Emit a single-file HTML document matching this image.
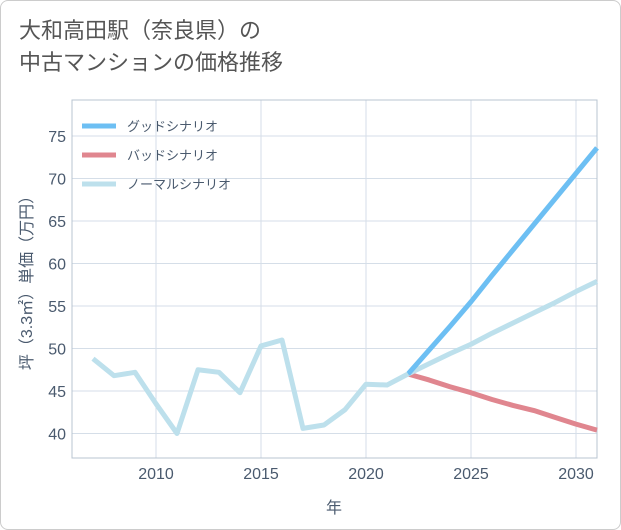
<!DOCTYPE html>
<html><head><meta charset="utf-8"><style>
body{margin:0;background:#fff;}
#wrap{position:relative;width:619px;height:528px;border:1px solid #ccc;border-radius:8px;background:#fff;overflow:hidden;font-family:"Liberation Sans","Noto Sans CJK JP",sans-serif;}
#title{position:absolute;left:18px;top:14px;font-size:22px;line-height:32px;color:#555;}
</style></head><body>
<div id="wrap">
<div id="title">大和高田駅（奈良県）の<br>中古マンションの価格推移</div>
<svg id="svg" width="621" height="530" style="position:absolute;left:-1px;top:-1px"></svg>
</div>
<script>
const years=[2007,2008,2009,2010,2011,2012,2013,2014,2015,2016,2017,2018,2019,2020,2021,2022];
const history=[48.8,46.8,47.2,43.5,40.0,47.5,47.2,44.8,50.3,51.0,40.6,41.0,42.8,45.8,45.7,47.0];
const futureYears=[2022,2023,2024,2025,2026,2027,2028,2029,2030,2031];
const good=[47.0,49.8,52.6,55.5,58.6,61.6,64.6,67.6,70.6,73.6];
const bad=[47.0,46.3,45.5,44.8,44.0,43.3,42.7,41.9,41.1,40.4];
const normal=[47.0,48.2,49.4,50.5,51.8,53.0,54.2,55.4,56.7,57.9];
const xTicks=[2010,2015,2020,2025,2030];
const yTicks=[40,45,50,55,60,65,70,75];
const NS='http://www.w3.org/2000/svg';
const svg=document.getElementById('svg');
const L=72,R=597,T=100,B=458;
const x=y=>156+(y-2010)*21;
const yv=v=>433.5-(v-40)*8.5;
function el(t,a,p){const e=document.createElementNS(NS,t);for(const k in a)e.setAttribute(k,a[k]);(p||svg).appendChild(e);return e;}
for(const t of yTicks){
 const g=el('line',{x1:L,x2:R,y1:yv(t),y2:yv(t),stroke:'#d5dee8','stroke-width':1});
 
 
 const tx=el('text',{x:L-6,y:yv(t)+6,'text-anchor':'end','font-size':16,fill:'#4a5a6e'});
 tx.textContent=t;
 
 
}
for(const t of xTicks){
 const g=el('line',{x1:x(t),x2:x(t),y1:T,y2:B,stroke:'#d5dee8','stroke-width':1});
 
 
 const tx=el('text',{x:x(t),y:B+21,'text-anchor':'middle','font-size':16,fill:'#4a5a6e'});
 tx.textContent=t;
 
 
}
const fr=el('rect',{x:L,y:T,width:R-L,height:B-T,fill:'none',stroke:'#b8c4d0','stroke-width':1});


function line(xs,vs,c,name){
 const p=el('polyline',{points:xs.map((yy,i)=>x(yy)+','+yv(vs[i])).join(' '),fill:'none',stroke:c,'stroke-width':5,'stroke-linejoin':'round'});
 
 
}
const cp=el('clipPath',{id:'cp'});el('rect',{x:L,y:T,width:R-L,height:B-T},cp);
line(futureYears,bad,'#e0868f','bad-scenario-line');
line(futureYears,normal,'#bde0ec','normal-scenario-line');
line(futureYears,good,'#6dbff3','good-scenario-line');
line(years,history,'#bde0ec','history-line');
const leg=[['グッドシナリオ','#6dbff3'],['バッドシナリオ','#e0868f'],['ノーマルシナリオ','#bde0ec']];
leg.forEach((d,i)=>{
 const yy=126+i*29;
 const s=el('line',{x1:82,x2:116,y1:yy,y2:yy,stroke:d[1],'stroke-width':5});
 
 
 const t=el('text',{x:127,y:yy+5,'font-size':13,fill:'#4a5a6e'});
 t.textContent=d[0];
 
 
});
const yt=el('text',{x:0,y:0,'font-size':16,fill:'#4a5a6e','text-anchor':'middle',transform:'translate(32,279) rotate(-90)'});
yt.textContent='坪（3.3㎡）単価（万円）';


const xt=el('text',{x:334,y:513,'font-size':16,fill:'#4a5a6e','text-anchor':'middle'});
xt.textContent='年';


</script>
</body></html>
